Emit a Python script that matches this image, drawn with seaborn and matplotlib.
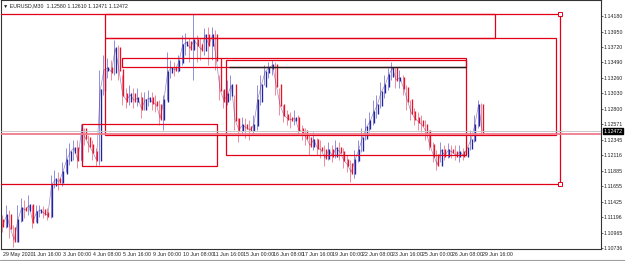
import matplotlib
matplotlib.use("Agg")
import matplotlib.pyplot as plt
from matplotlib.patches import Rectangle
import seaborn as sns
import numpy as np
import pandas as pd

# ---- data (EURUSD, each entry ~ 4h aggregate) ----
first_open = 1.1115
closes = [1.1107, 1.1122, 1.1103, 1.1085, 1.1115, 1.1133, 1.1130, 1.1137, 1.1112, 1.1127,
          1.1130, 1.1125, 1.1122, 1.1167, 1.1175, 1.1172, 1.1186, 1.1204, 1.1216, 1.1222,
          1.1204, 1.1249, 1.1237, 1.1226, 1.1216, 1.1204, 1.1308, 1.1338, 1.1341, 1.1335,
          1.1370, 1.1338, 1.1301, 1.1293, 1.1301, 1.1293, 1.1296, 1.1281, 1.1293, 1.1296,
          1.1290, 1.1286, 1.1266, 1.1293, 1.1335, 1.1341, 1.1338, 1.1350, 1.1375, 1.1379,
          1.1370, 1.1382, 1.1375, 1.1368, 1.1390, 1.1375, 1.1390, 1.1353, 1.1308, 1.1293,
          1.1301, 1.1315, 1.1264, 1.1249, 1.1256, 1.1252, 1.1249, 1.1256, 1.1293, 1.1315,
          1.1335, 1.1341, 1.1345, 1.1315, 1.1286, 1.1271, 1.1266, 1.1264, 1.1266, 1.1249,
          1.1246, 1.1237, 1.1226, 1.1234, 1.1222, 1.1219, 1.1207, 1.1219, 1.1211, 1.1222,
          1.1216, 1.1204, 1.1197, 1.1186, 1.1204, 1.1219, 1.1237, 1.1252, 1.1261, 1.1275,
          1.1286, 1.1305, 1.1315, 1.1330, 1.1341, 1.1323, 1.1326, 1.1311, 1.1293, 1.1275,
          1.1266, 1.1261, 1.1256, 1.1246, 1.1226, 1.1211, 1.1197, 1.1219, 1.1211, 1.1219,
          1.1216, 1.1211, 1.1216, 1.1211, 1.1222, 1.1234, 1.1256, 1.1286, 1.1247]
highs = [1.1122, 1.1137, 1.1130, 1.1107, 1.1137, 1.1148, 1.1145, 1.1152, 1.1137, 1.1137,
         1.1137, 1.1136, 1.1133, 1.1182, 1.1189, 1.1186, 1.1201, 1.1222, 1.1229, 1.1234,
         1.1234, 1.1258, 1.1252, 1.1241, 1.1234, 1.1222, 1.1338, 1.1360, 1.1356, 1.1353,
         1.1382, 1.1375, 1.1330, 1.1311, 1.1315, 1.1311, 1.1311, 1.1305, 1.1305, 1.1308,
         1.1305, 1.1301, 1.1293, 1.1301, 1.1365, 1.1353, 1.1350, 1.1360, 1.1390, 1.1393,
         1.1385, 1.1421, 1.1390, 1.1385, 1.1400, 1.1402, 1.1402, 1.1397, 1.1330, 1.1308,
         1.1323, 1.1330, 1.1301, 1.1266, 1.1268, 1.1266, 1.1264, 1.1271, 1.1315, 1.1330,
         1.1345, 1.1350, 1.1353, 1.1350, 1.1311, 1.1286, 1.1278, 1.1275, 1.1278, 1.1271,
         1.1256, 1.1252, 1.1241, 1.1246, 1.1237, 1.1234, 1.1226, 1.1231, 1.1226, 1.1234,
         1.1231, 1.1222, 1.1211, 1.1204, 1.1219, 1.1234, 1.1252, 1.1266, 1.1275, 1.1293,
         1.1301, 1.1320, 1.1330, 1.1341, 1.1350, 1.1341, 1.1338, 1.1330, 1.1315, 1.1293,
         1.1281, 1.1275, 1.1271, 1.1264, 1.1249, 1.1231, 1.1219, 1.1231, 1.1226, 1.1229,
         1.1226, 1.1226, 1.1226, 1.1222, 1.1234, 1.1249, 1.1271, 1.1293, 1.1289]
lows = [1.1097, 1.1103, 1.1088, 1.1075, 1.1082, 1.1112, 1.1118, 1.1122, 1.1103, 1.1112,
        1.1119, 1.1118, 1.1115, 1.1118, 1.1163, 1.1160, 1.1166, 1.1186, 1.1197, 1.1204,
        1.1192, 1.1204, 1.1226, 1.1216, 1.1204, 1.1195, 1.1197, 1.1301, 1.1326, 1.1323,
        1.1330, 1.1323, 1.1286, 1.1281, 1.1286, 1.1281, 1.1284, 1.1266, 1.1278, 1.1284,
        1.1278, 1.1275, 1.1256, 1.1249, 1.1293, 1.1326, 1.1329, 1.1335, 1.1345, 1.1360,
        1.1350, 1.1323, 1.1350, 1.1353, 1.1360, 1.1345, 1.1353, 1.1338, 1.1293, 1.1281,
        1.1286, 1.1293, 1.1249, 1.1231, 1.1241, 1.1237, 1.1234, 1.1241, 1.1249, 1.1286,
        1.1315, 1.1326, 1.1330, 1.1301, 1.1271, 1.1261, 1.1256, 1.1252, 1.1256, 1.1241,
        1.1234, 1.1226, 1.1211, 1.1219, 1.1211, 1.1207, 1.1195, 1.1204, 1.1201, 1.1207,
        1.1204, 1.1192, 1.1186, 1.1172, 1.1177, 1.1201, 1.1216, 1.1234, 1.1246, 1.1256,
        1.1266, 1.1281, 1.1296, 1.1308, 1.1323, 1.1311, 1.1311, 1.1301, 1.1278, 1.1264,
        1.1256, 1.1249, 1.1246, 1.1234, 1.1219, 1.1201, 1.1189, 1.1201, 1.1204, 1.1207,
        1.1207, 1.1204, 1.1201, 1.1204, 1.1210, 1.1219, 1.1231, 1.1252, 1.1244]

x_tick_labels = ["29 May 2020", "1 Jun 16:00", "3 Jun 00:00", "4 Jun 08:00", "5 Jun 16:00",
                 "9 Jun 00:00", "10 Jun 08:00", "11 Jun 16:00", "15 Jun 00:00", "16 Jun 08:00",
                 "17 Jun 16:00", "19 Jun 00:00", "22 Jun 08:00", "23 Jun 16:00", "25 Jun 00:00",
                 "26 Jun 08:00", "29 Jun 16:00"]
y_tick_values = [1.14180, 1.13950, 1.13720, 1.13490, 1.13260, 1.13030, 1.12800, 1.12571,
                 1.12345, 1.12116, 1.11885, 1.11655, 1.11425, 1.11196, 1.10965, 1.10736]
y_tick_labels = ["1.14180", "1.13950", "1.13720", "1.13490", "1.13260", "1.13030", "1.12800",
                 "1.12571", "1.12345", "1.12116", "1.11885", "1.11655", "1.11425", "1.11196",
                 "1.10965", "1.10736"]
last_price = 1.12472
title_text = "EURUSD,M30  1.12580 1.12610 1.12471 1.12472"

# drawn objects: (x0, x1, price_top, price_bottom) in bar units
rect_big = (-5, 148.8, 1.1421, 1.1169)
rect_top = (27.2, 131.5, 1.1421, 1.1385)
rect_mid = (27.2, 147.7, 1.1385, 1.1242)
rect_thin = (31.7, 123.7, 1.1356, 1.1342)
rect_range = (59.5, 123.7, 1.1353, 1.1211)
rect_low = (21.1, 57.3, 1.1258, 1.1195)
black_line = (60.3, 123.7, 1.1342)
pink_level = 1.1243

# ---- build frame ----
opens = [first_open] + closes[:-1]
df = pd.DataFrame({"i": np.arange(len(closes)), "open": opens, "high": highs,
                   "low": lows, "close": closes})
df["dir"] = np.where(df["close"] >= df["open"], "up", "down")

sns.set_style("white")
small_font = ["Liberation Sans Narrow", "Liberation Sans", "DejaVu Sans"]
plt.rcParams["font.family"] = small_font

fig = plt.figure(figsize=(6.25, 2.61), dpi=100)
ax = fig.add_axes([1 / 625, 12 / 261, 600 / 625, 249 / 261])

palette = {"up": "#23239a", "down": "#e4142c"}
light = {"up": "#8f8fe0", "down": "#f28a9a"}

# wicks and bodies
for d in ("up", "down"):
    sub = df[df["dir"] == d]
    ax.vlines(sub["i"] - 0.25, sub["low"], sub["high"], color=light[d], lw=0.7, zorder=2)
    ax.vlines(sub["i"] + 0.15, sub[["open", "close"]].min(axis=1) - 0.0002,
              sub[["open", "close"]].max(axis=1) + 0.0002, color=palette[d], lw=0.95, zorder=3)
sns.lineplot(data=df, x="i", y="close", ax=ax, color="#5a2a7a", lw=0.5, alpha=0.55,
             legend=False, zorder=2)

red = "#e00018"
for (x0, x1, top, bot) in (rect_big, rect_top, rect_mid, rect_thin, rect_range, rect_low):
    ax.add_patch(Rectangle((x0, bot), x1 - x0, top - bot, fill=False, ec=red, lw=0.9, zorder=4))
ax.hlines(black_line[2], black_line[0], black_line[1], color="#202020", lw=1.0, zorder=5)
ax.axhline(pink_level, color="#f07a8c", lw=1.3, zorder=4)
ax.axhline(last_price, color="#c8c8c8", lw=0.7, zorder=4)
for yy in (rect_big[2], rect_big[3]):
    ax.plot([rect_big[1]], [yy], marker="s", ms=2.6, mfc="white", mec=red, mew=0.7, zorder=6)

ax.set_xlim(-0.5, 159.7)
ax.set_ylim(1.10720, 1.14418)

ax.yaxis.tick_right()
ax.set_yticks(y_tick_values)
ax.set_yticklabels(y_tick_labels, fontsize=3.8)
ax.set_xticks(np.arange(0, 8 * len(x_tick_labels), 8))
ax.set_xticklabels(x_tick_labels, fontsize=3.8, ha="left")
ax.tick_params(axis="both", length=1.5, width=0.5, pad=0.8, colors="#222222")
ax.tick_params(axis="y", pad=0.6)
ax.set_xlabel("")
ax.set_ylabel("")
for s in ax.spines.values():
    s.set_color("#333333")
    s.set_linewidth(0.8)

ax.text(0.004, 0.985, "\u25bc " + title_text, transform=ax.transAxes, fontsize=3.8,
        va="top", ha="left", color="#222222", family=small_font)
ax.annotate("1.12472", xy=(1.0, last_price), xycoords=("axes fraction", "data"),
            xytext=(1.6, 0), textcoords="offset points", fontsize=3.8, color="white",
            va="center", ha="left",
            bbox=dict(boxstyle="square,pad=0.12", fc="black", ec="black"), zorder=10,
            annotation_clip=False)

fig.add_artist(plt.Line2D([0, 1], [1.5 / 261, 1.5 / 261], color="#a0a0a0", lw=0.8))

fig.savefig("out.png", dpi=100, facecolor="white")
